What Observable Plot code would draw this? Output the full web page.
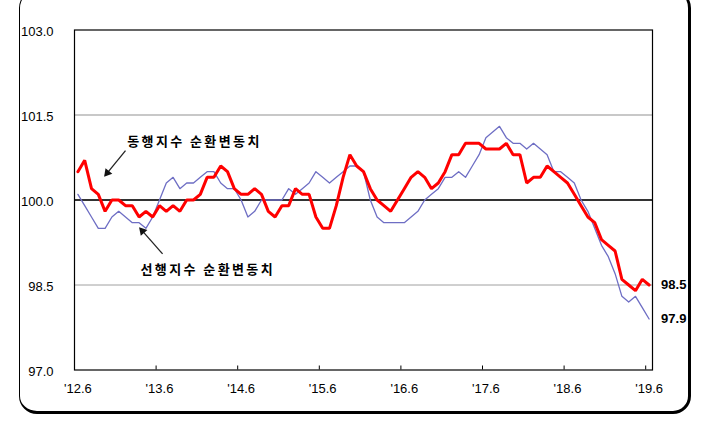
<!DOCTYPE html>
<html>
<head>
<meta charset="utf-8">
<script src="https://cdn.jsdelivr.net/npm/d3@7"></script>
<script src="https://cdn.jsdelivr.net/npm/@observablehq/plot@0.6"></script>
<style>
  html, body { margin: 0; padding: 0; background: #fff; }
  #wrap { position: relative; width: 706px; height: 423px; overflow: hidden; background: #fff; }
  #box { position: absolute; left: 19px; top: -10px; width: 672px; height: 424px; box-sizing: border-box;
         border-left: 1px solid #000; border-top: 1px solid #000; border-right: 3px solid #000; border-bottom: 3px solid #000;
         border-radius: 18px; }
  #chart { position: absolute; left: 0; top: 0; }
</style>
</head>
<body>
<div id="wrap"><div id="box"></div><div id="chart"></div></div>
<script>
// Monthly, 2012.6 .. 2019.6 (85 months)
const coincident = [100.5,100.7,100.2,100.1,99.8,100.0,100.0,99.9,99.9,99.7,99.8,99.7,
  99.9,99.8,99.9,99.8,100.0,100.0,100.1,100.4,100.4,100.6,100.5,100.2,
  100.1,100.1,100.2,100.1,99.8,99.7,99.9,99.9,100.2,100.1,100.1,99.7,
  99.5,99.5,99.9,100.4,100.8,100.6,100.5,100.2,100.0,99.9,99.8,100.0,
  100.2,100.4,100.5,100.4,100.2,100.3,100.5,100.8,100.8,101.0,101.0,101.0,
  100.9,100.9,100.9,101.0,100.8,100.8,100.3,100.4,100.4,100.6,100.5,100.4,
  100.3,100.1,99.9,99.7,99.6,99.3,99.2,99.1,98.6,98.5,98.4,98.6,98.5];
const leading = [100.1,99.9,99.7,99.5,99.5,99.7,99.8,99.7,99.6,99.6,99.5,99.7,
  100.0,100.3,100.4,100.2,100.3,100.3,100.4,100.5,100.5,100.3,100.2,100.2,
  100.0,99.7,99.8,100.0,100.0,100.0,100.0,100.2,100.1,100.2,100.3,100.5,
  100.4,100.3,100.4,100.5,100.6,100.6,100.5,100.0,99.7,99.6,99.6,99.6,
  99.6,99.7,99.8,100.0,100.1,100.2,100.4,100.4,100.5,100.4,100.6,100.8,
  101.1,101.2,101.3,101.1,101.0,101.0,100.9,101.0,100.9,100.8,100.5,100.5,
  100.4,100.3,100.0,99.8,99.5,99.2,99.0,98.7,98.3,98.2,98.3,98.1,97.9];
const xTickLabels = ["'12.6","'13.6","'14.6","'15.6","'16.6","'17.6","'18.6","'19.6"];
const xTickIndex = [0,12,24,36,48,60,72,84];
const yTicks = [97.0, 98.5, 100.0, 101.5, 103.0];
const seriesNames = ["동행지수 순환변동치", "선행지수 순환변동치"];
// annotation anchors in data units (month index, index value)
const labelAnchors = [{x: 17.15, y: 101.03}, {x: 19.1, y: 98.76}];
const arrowAnchors = [{x1: 7.0, y1: 100.87, x2: 4.0, y2: 100.43}, {x1: 12.45, y1: 99.05, x2: 9.15, y2: 99.5}];

const coinData = coincident.map((v, i) => ({i, v}));
const leadData = leading.map((v, i) => ({i, v}));
const lastVals = [coincident[coincident.length - 1], leading[leading.length - 1]];

// pixel-per-unit ratios of the plot area, used only to orient the arrowheads
const pxX = 578 / 85, pxY = 340 / 6;
const heads = arrowAnchors.map(a => {
  const dx = (a.x2 - a.x1) * pxX, dy = -(a.y2 - a.y1) * pxY;
  const len = Math.hypot(dx, dy);
  const back = 3.5; // move triangle centre back from the tip
  return {
    x: a.x2 - (dx / len) * back / pxX,
    y: a.y2 + (dy / len) * back / pxY,
    rot: Math.atan2(dx, -dy) * 180 / Math.PI
  };
});

const tickFont = "'Liberation Sans Narrow', 'Arial Narrow', 'Liberation Sans', Arial, sans-serif";
const korFont = "'Noto Sans CJK KR', 'Noto Sans', sans-serif";

const chart = Plot.plot({
  width: 706,
  height: 423,
  marginLeft: 74,
  marginRight: 54,
  marginTop: 29.5,
  marginBottom: 53.5,
  style: {background: "transparent", overflow: "visible"},
  x: {domain: [-0.5, 84.5], axis: null},
  y: {domain: [97, 103], axis: null},
  marks: [
    Plot.ruleY([101.5], {stroke: "#c8c8c8", strokeWidth: 2}),
    Plot.ruleY([98.5], {stroke: "#a0a0a0", strokeWidth: 1}),
    Plot.ruleY([100], {stroke: "#333", strokeWidth: 2}),
    Plot.frame({stroke: "#000", strokeWidth: 1.2}),
    Plot.ruleX(xTickIndex, {x: d => d - 0.5, y1: 97, y2: 97 + 4 / 56.67, stroke: "#000", strokeWidth: 1}),
    Plot.text(xTickIndex, {x: d => d, y: 97, dy: 19, text: (d, k) => xTickLabels[k], fontSize: 13, fontFamily: tickFont, fill: "#000"}),
    Plot.text(yTicks, {x: -0.5, y: d => d, dx: -21, dy: 2, text: d => d.toFixed(1), textAnchor: "end", fontSize: 13, fontFamily: tickFont, fill: "#000"}),
    Plot.lineY(leadData, {x: "i", y: "v", stroke: "#6e6ec4", strokeWidth: 1.3}),
    Plot.lineY(coinData, {x: "i", y: "v", stroke: "#ff0000", strokeWidth: 3, strokeLinejoin: "miter"}),
    Plot.link(arrowAnchors, {x1: "x1", y1: "y1", x2: "x2", y2: "y2", stroke: "#222", strokeWidth: 1.3}),
    Plot.dot(heads, {x: "x", y: "y", rotate: "rot", symbol: "triangle2", r: 4.2, fill: "#111", stroke: "none"}),
    Plot.text(labelAnchors, {x: "x", y: "y", text: (d, k) => seriesNames[k], fontSize: 13, fontWeight: "bold", fontFamily: korFont, fill: "#000"}),
    Plot.text(lastVals, {x: 84, y: d => d, dx: 12, text: d => d.toFixed(1), textAnchor: "start", fontSize: 13, fontWeight: "bold", fontFamily: "'Liberation Sans', Arial, sans-serif", fill: "#000"})
  ]
});
d3.select(chart).selectAll("text")
  .filter(function() { return /[\uac00-\ud7a3]/.test(this.textContent); })
  .style("letter-spacing", "2.4px");
document.getElementById("chart").appendChild(chart);
</script>
</body>
</html>
